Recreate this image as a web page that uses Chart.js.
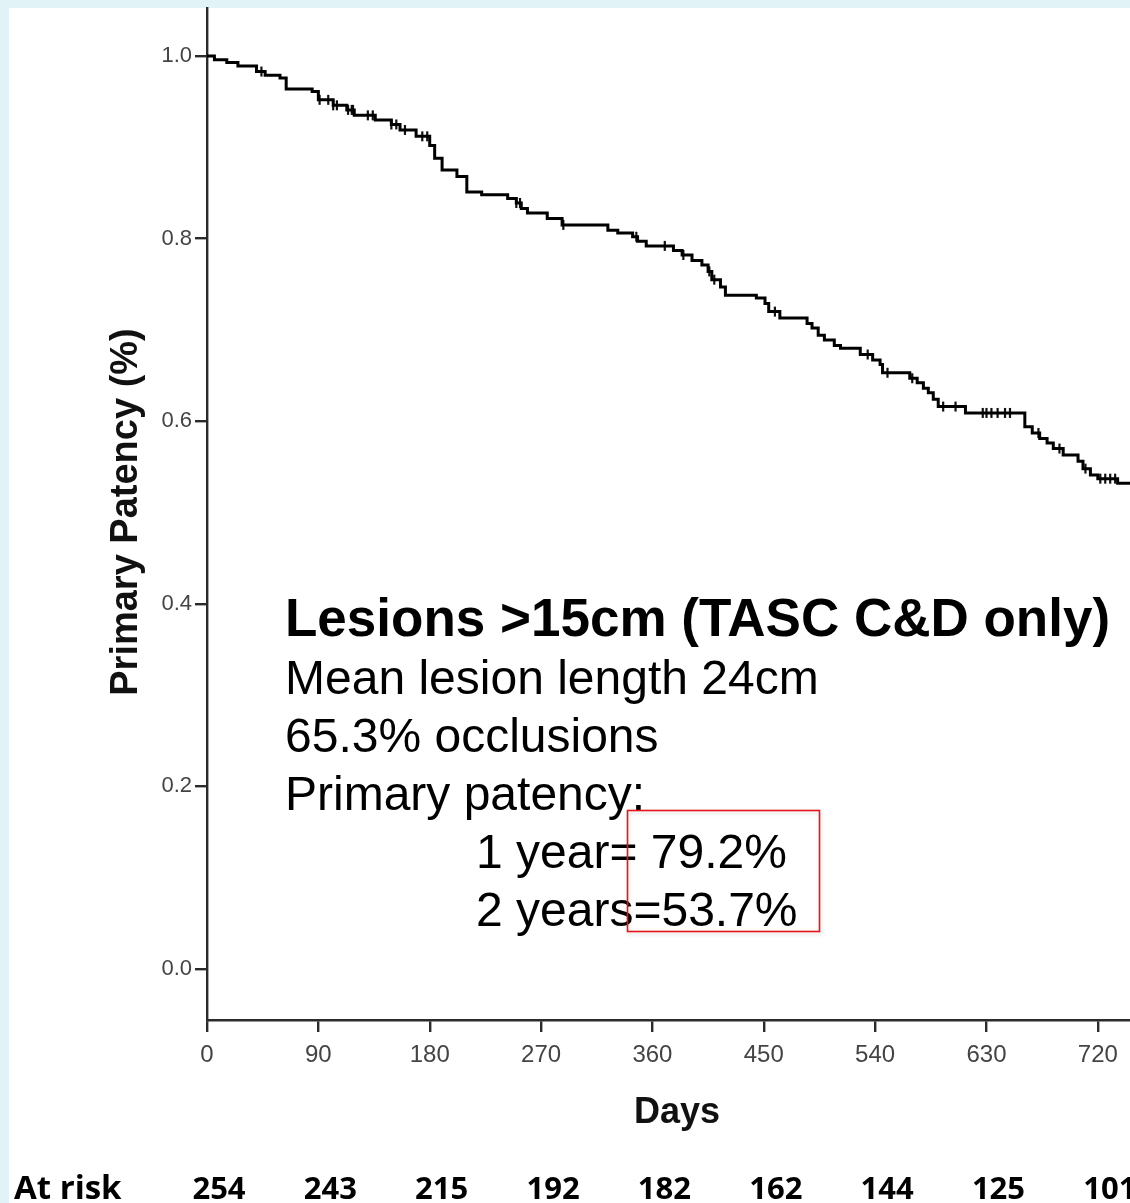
<!DOCTYPE html>
<html>
<head>
<meta charset="utf-8">
<script src="https://cdn.jsdelivr.net/npm/chart.js@4/dist/chart.umd.min.js"></script>
<style>
  html, body { margin: 0; padding: 0; background: #e2f3f7; }
  canvas { display: block; }
</style>
</head>
<body>
<canvas id="km" width="1130" height="1203"></canvas>
<script>
// Kaplan-Meier primary patency, lesions >15cm
const stepDays = [0, 6, 16, 25, 40, 47, 59, 64, 85, 90, 102, 113, 119, 136, 149, 156, 169, 180, 184, 190,
    202, 210, 222, 243, 250, 254, 259, 275, 287, 324, 332, 344, 348, 355, 377, 384, 392, 400, 405, 408,
    415, 419, 444, 451, 454, 463, 485, 489, 494, 499, 507, 512, 528, 538, 544, 546, 568, 574, 579, 583,
    587, 591, 613, 661, 667, 673, 679, 684, 692, 704, 708, 714, 720, 736, 746];
const stepSurvival = [1.000, 0.996, 0.993, 0.989, 0.983, 0.979, 0.976, 0.964, 0.961, 0.952, 0.946, 0.941, 0.935, 0.930, 0.925, 0.919, 0.912, 0.902, 0.888, 0.875,
    0.868, 0.851, 0.848, 0.844, 0.839, 0.833, 0.828, 0.822, 0.815, 0.809, 0.806, 0.802, 0.797, 0.792, 0.787, 0.782, 0.776, 0.771, 0.764, 0.755,
    0.747, 0.738, 0.735, 0.729, 0.720, 0.713, 0.707, 0.702, 0.694, 0.689, 0.683, 0.680, 0.673, 0.667, 0.662, 0.653, 0.647, 0.642, 0.636, 0.631,
    0.624, 0.616, 0.609, 0.594, 0.587, 0.581, 0.576, 0.570, 0.563, 0.556, 0.548, 0.541, 0.537, 0.532, 0.532];
const censorDays = [44, 91, 98, 102, 105, 114, 117, 118, 130, 134, 149, 153, 160, 174, 178, 250, 253, 288, 347, 370,
    385, 406, 410, 459, 534, 550, 570, 595, 605, 627, 630, 634, 639, 645, 649, 672, 689, 710, 722, 726, 730, 734];
const dayTicks = [0, 90, 180, 270, 360, 450, 540, 630, 720];
const patencyTicks = [0, 0.2, 0.4, 0.6, 0.8, 1.0];
const atRiskCounts = [254, 243, 215, 192, 182, 162, 144, 125, 101];
const notes = ['Mean lesion length 24cm', '65.3% occlusions', 'Primary patency:'];
const patencyAt = ['1 year= 79.2%', '2 years=53.7%'];

// survival value in force on a given day (step function lookup)
function survivalOn(day) {
    let s = stepSurvival[0];
    for (let i = 0; i < stepDays.length; i++) {
        if (stepDays[i] <= day) s = stepSurvival[i];
    }
    return s;
}

const curvePoints = stepDays.map((d, i) => ({ x: d, y: stepSurvival[i] }));
const censorPoints = censorDays.map(d => ({ x: d, y: survivalOn(d) }));

const SANS = '"Liberation Sans", Arial, sans-serif';

// drop the label overhang padding so the plot runs flush to the edges
function noEdgePadding(scale) {
    scale.paddingLeft = 0;
    scale.paddingRight = 0;
    scale.paddingTop = 0;
    scale.paddingBottom = 0;
}

const extras = {
    id: 'extras',
    beforeDraw(chart) {
        const { ctx } = chart;
        ctx.save();
        ctx.fillStyle = '#ffffff';
        ctx.fillRect(9, 8, chart.width - 9, chart.height - 8);
        ctx.restore();
    },
    afterDraw(chart) {
        const { ctx } = chart;
        const xs = chart.scales.x;
        ctx.save();
        ctx.fillStyle = '#000';

        // y axis title
        ctx.save();
        ctx.translate(137, 512);
        ctx.rotate(-Math.PI / 2);
        ctx.font = 'bold 38px ' + SANS;
        ctx.textAlign = 'center';
        ctx.textBaseline = 'alphabetic';
        ctx.fillStyle = '#111';
        ctx.fillText('Primary Patency (%)', 0, 0);
        ctx.restore();

        // x axis title
        ctx.font = 'bold 36px ' + SANS;
        ctx.textAlign = 'center';
        ctx.fillStyle = '#111';
        ctx.fillText('Days', 677, 1123);

        // numbers at risk
        ctx.fillStyle = '#000';
        ctx.textAlign = 'left';
        ctx.font = 'bold 33px "Open Sans", Lato, sans-serif';
        ctx.fillText('At risk', 14, 1199);
        ctx.font = 'bold 31px "Open Sans", Lato, sans-serif';
        ctx.textAlign = 'center';
        atRiskCounts.forEach((n, i) => {
            ctx.fillText(String(n), xs.getPixelForValue(dayTicks[i]) + 12, 1199);
        });

        // annotation block
        ctx.textAlign = 'left';
        ctx.font = 'bold 53px ' + SANS;
        ctx.fillText('Lesions >15cm (TASC C&D only)', 285, 636);
        ctx.font = '48px ' + SANS;
        notes.forEach((t, i) => ctx.fillText(t, 285, 694 + i * 58));
        patencyAt.forEach((t, i) => ctx.fillText(t, 476, 868 + i * 58));

        // highlight box around the patency figures
        ctx.shadowColor = 'rgba(0,0,0,0.18)';
        ctx.shadowBlur = 4;
        ctx.shadowOffsetX = 1;
        ctx.shadowOffsetY = 2;
        ctx.strokeStyle = '#e8141b';
        ctx.lineWidth = 1.6;
        ctx.strokeRect(627.5, 810.5, 192, 121);
        ctx.restore();
    }
};

new Chart(document.getElementById('km'), {
    type: 'line',
    data: {
        datasets: [{
            data: curvePoints,
            stepped: true,
            borderColor: '#000',
            borderWidth: 3,
            pointRadius: 0,
            fill: false,
        }, {
            type: 'scatter',
            data: censorPoints,
            pointStyle: 'line',
            rotation: 90,
            pointRadius: 5,
            borderColor: '#111',
            borderWidth: 2.2,
            showLine: false,
        }]
    },
    options: {
        responsive: false,
        animation: false,
        events: [],
        layout: { autoPadding: false, padding: { top: 8, left: 0, right: 0, bottom: 0 } },
        plugins: {
            legend: { display: false },
            tooltip: { enabled: false },
        },
        scales: {
            x: {
                type: 'linear',
                min: 0,
                max: 746,
                afterBuildTicks: scale => { scale.ticks = dayTicks.map(v => ({ value: v })); },
                afterFit: scale => { scale.height = 183; noEdgePadding(scale); },
                border: { display: true, color: '#2b2b2b', width: 2.4 },
                grid: { drawOnChartArea: false, drawTicks: true, tickLength: 12, color: '#2b2b2b', lineWidth: 2.4 },
                ticks: {
                    padding: 9,
                    color: '#444',
                    maxRotation: 0,
                    autoSkip: false,
                    font: { family: SANS, size: 24 },
                    callback: v => String(v),
                },
            },
            y: {
                type: 'linear',
                min: -0.056,
                max: 1.0526,
                afterBuildTicks: scale => { scale.ticks = patencyTicks.map(v => ({ value: v })); },
                afterFit: scale => { scale.width = 207; noEdgePadding(scale); },
                border: { display: true, color: '#2b2b2b', width: 2.4 },
                grid: { drawOnChartArea: false, drawTicks: true, tickLength: 12, color: '#2b2b2b', lineWidth: 2.4 },
                ticks: {
                    padding: 3,
                    color: '#444',
                    autoSkip: false,
                    font: { family: SANS, size: 22 },
                    callback: v => Number(v).toFixed(1),
                },
            }
        }
    },
    plugins: [extras]
});
</script>
</body>
</html>
